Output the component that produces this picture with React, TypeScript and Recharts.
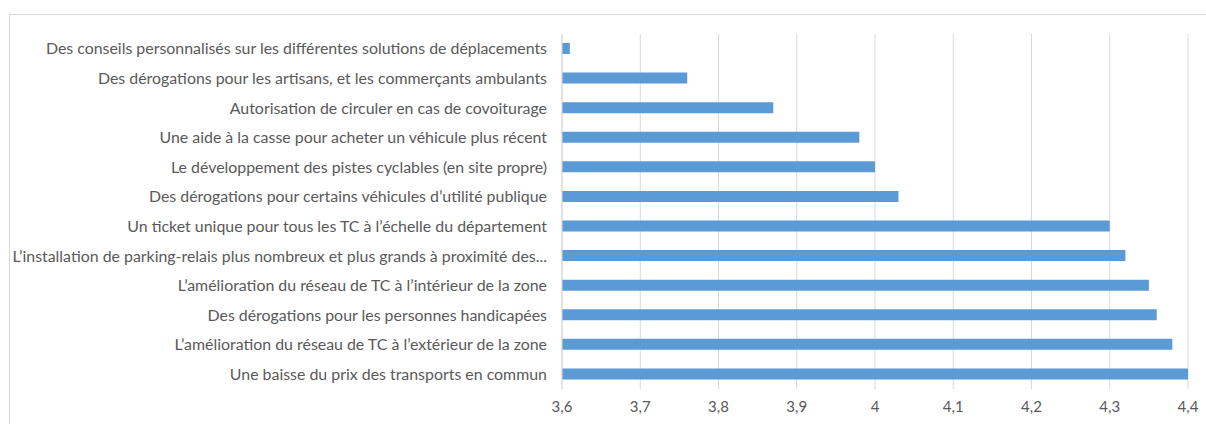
import { BarChart, Bar, XAxis, YAxis, CartesianGrid } from "recharts";

// libellés (de haut en bas) et moyennes
const labels = [
  "Des conseils personnalisés sur les différentes solutions de déplacements",
  "Des dérogations pour les artisans, et les commerçants ambulants",
  "Autorisation de circuler en cas de covoiturage",
  "Une aide à la casse pour acheter un véhicule plus récent",
  "Le développement des pistes cyclables (en site propre)",
  "Des dérogations pour certains véhicules d’utilité publique",
  "Un ticket unique pour tous les TC à l’échelle du département",
  "L’installation de parking-relais plus nombreux et plus grands à proximité des...",
  "L’amélioration du réseau de TC à l’intérieur de la zone",
  "Des dérogations pour les personnes handicapées",
  "L’amélioration du réseau de TC à l’extérieur de la zone",
  "Une baisse du prix des transports en commun",
];
const scores = [3.61, 3.76, 3.87, 3.98, 4.0, 4.03, 4.3, 4.32, 4.35, 4.36, 4.38, 4.4];
const xTicks = [3.6, 3.7, 3.8, 3.9, 4, 4.1, 4.2, 4.3, 4.4];

const data = labels.map((label, i) => ({ label, score: scores[i] }));

const fmt = (v: number) => String(v).replace(".", ",");

export default function App() {
  return (
    <div
      style={{
        position: "fixed",
        left: 0,
        top: 0,
        width: 1206,
        height: 424,
        overflow: "hidden",
        background: "#fff",
        fontFamily: "Lato, sans-serif",
      }}
    >
      {/* cadre gris clair (haut et gauche seulement visibles) */}
      <div
        style={{
          position: "absolute",
          left: 9,
          top: 14,
          right: 0,
          bottom: 0,
          borderTop: "1px solid #d9d9d9",
          borderLeft: "1px solid #d9d9d9",
        }}
      />
      <BarChart
        width={1206}
        height={424}
        data={data}
        layout="vertical"
        margin={{ top: 34, right: 18, bottom: 5, left: 0 }}
        barCategoryGap={0}
        style={{ position: "absolute", left: 0, top: 0 }}
      >
        <CartesianGrid horizontal={false} stroke="#d9d9d9" />
        <XAxis
          type="number"
          domain={[3.6, 4.4]}
          ticks={xTicks}
          tickFormatter={fmt}
          axisLine={false}
          tickLine={false}
          tickSize={0}
          tickMargin={12}
          height={30}
          tick={{ fill: "#595959", fontSize: 15 }}
        />
        <YAxis
          type="category"
          dataKey="label"
          width={562}
          axisLine={{ stroke: "#d9d9d9" }}
          tickLine={false}
          tickSize={0}
          tickMargin={15}
          interval={0}
          tick={{ fill: "#595959", fontSize: 15.9 }}
        />
        <Bar dataKey="score" fill="#5b9bd5" barSize={11} isAnimationActive={false} />
      </BarChart>
    </div>
  );
}
